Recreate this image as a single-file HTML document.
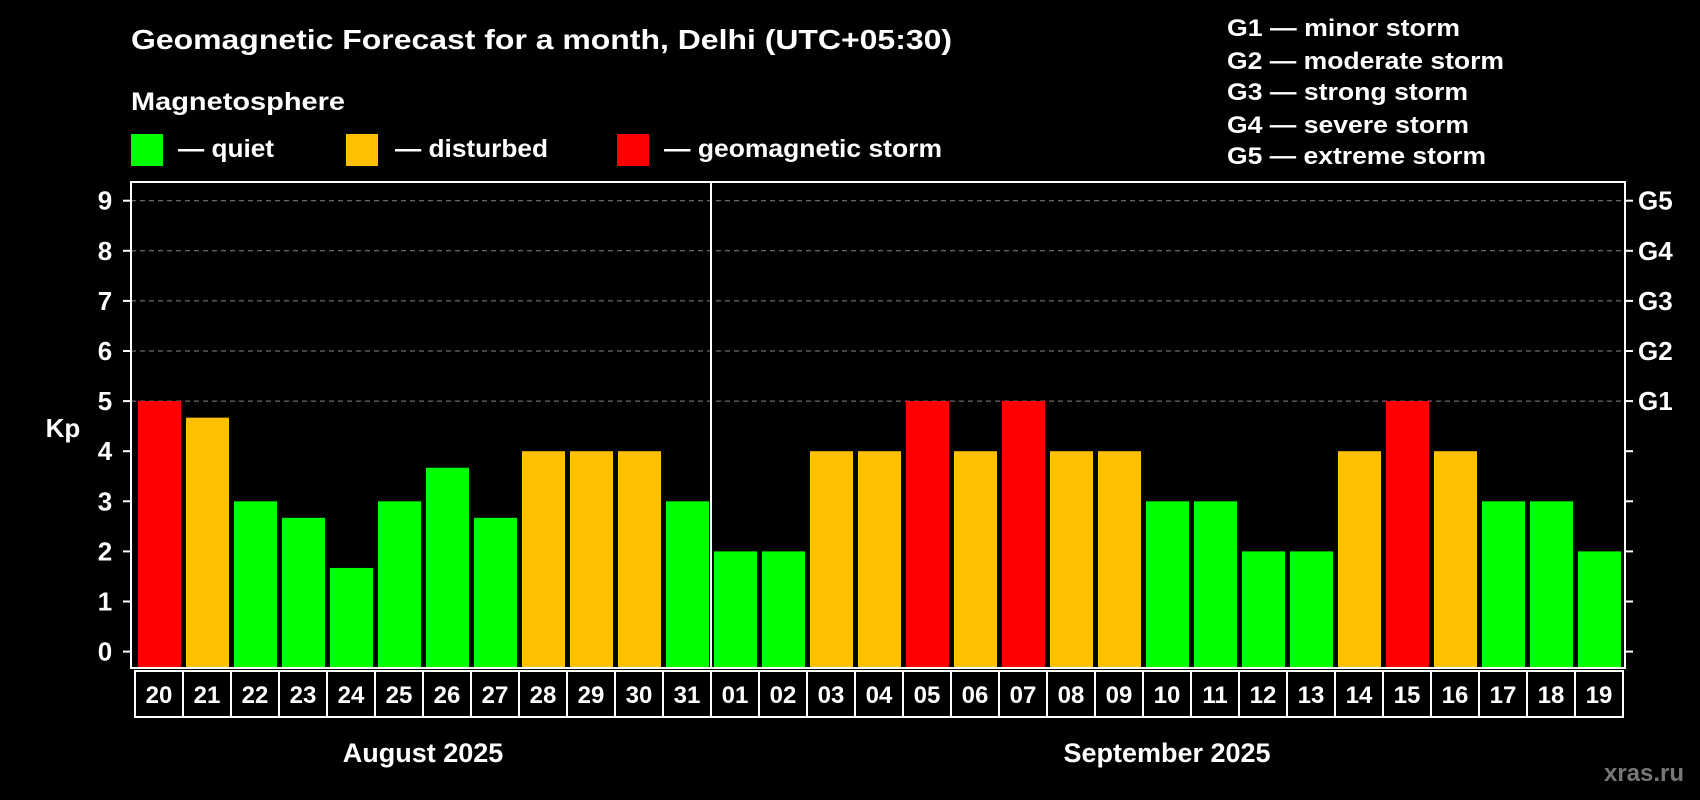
<!DOCTYPE html>
<html><head><meta charset="utf-8"><style>
html,body{margin:0;padding:0;background:#000;width:1700px;height:800px;overflow:hidden}
svg{display:block;font-family:"Liberation Sans",Arial,sans-serif;font-weight:bold}
</style></head><body>
<svg id="chart" width="1700" height="800" viewBox="0 0 1700 800">
<rect width="1700" height="800" fill="#000"/>
<text x="131" y="49" font-size="28" fill="#fff" textLength="821" lengthAdjust="spacingAndGlyphs">Geomagnetic Forecast for a month, Delhi (UTC+05:30)</text>
<text x="131" y="110" font-size="25" fill="#fff" textLength="214" lengthAdjust="spacingAndGlyphs">Magnetosphere</text>
<g><rect x="131" y="134" width="32" height="32" fill="#00ff00"/><text x="178" y="157" font-size="25" fill="#fff" textLength="96" lengthAdjust="spacingAndGlyphs">— quiet</text></g>
<g><rect x="346" y="134" width="32" height="32" fill="#ffc000"/><text x="395" y="157" font-size="25" fill="#fff" textLength="153" lengthAdjust="spacingAndGlyphs">— disturbed</text></g>
<g><rect x="617" y="134" width="32" height="32" fill="#ff0000"/><text x="664" y="157" font-size="25" fill="#fff" textLength="278" lengthAdjust="spacingAndGlyphs">— geomagnetic storm</text></g>
<g font-size="24" fill="#fff">
<text x="1227" y="36" textLength="233" lengthAdjust="spacingAndGlyphs">G1 — minor storm</text>
<text x="1227" y="69" textLength="277" lengthAdjust="spacingAndGlyphs">G2 — moderate storm</text>
<text x="1227" y="100" textLength="241" lengthAdjust="spacingAndGlyphs">G3 — strong storm</text>
<text x="1227" y="133" textLength="242" lengthAdjust="spacingAndGlyphs">G4 — severe storm</text>
<text x="1227" y="164" textLength="259" lengthAdjust="spacingAndGlyphs">G5 — extreme storm</text>
</g>
<text x="63" y="437" font-size="26" fill="#fff" text-anchor="middle">Kp</text>
<text x="1644" y="781" font-size="24" fill="#777" text-anchor="middle">xras.ru</text>
<g id="plot"></g>
</svg>
<script>
const dates = ["20","21","22","23","24","25","26","27","28","29","30","31","01","02","03","04","05","06","07","08","09","10","11","12","13","14","15","16","17","18","19"];
const kpValues = [5,4.67,3,2.67,1.67,3,3.67,2.67,4,4,4,3,2,2,4,4,5,4,5,4,4,3,3,2,2,4,5,4,3,3,2];
const yTicks = [0,1,2,3,4,5,6,7,8,9];
const gLabels = ["G1","G2","G3","G4","G5"];
const months = ["August 2025","September 2025"];
const monthStartIdx = [0,12];

const NS="http://www.w3.org/2000/svg";
const plot=document.getElementById('plot');
const L=131,R=1625,T=182,B=668,y0=651.6,unit=50.1,step=48,x0=134,barW=43;
const y=v=>y0-v*unit;
const xs=i=>x0+i*step;
function mk(tag,attrs,parent){const e=document.createElementNS(NS,tag);for(const k in attrs)e.setAttribute(k,attrs[k]);(parent||plot).appendChild(e);return e;}

// gridlines 5..9
yTicks.filter(t=>t>=5).forEach(t=>{
  const g=mk('line',{x1:L,x2:R,y1:y(t),y2:y(t),stroke:'#888','stroke-width':1,'stroke-dasharray':'5,4'});
  
  
});
// bars
kpValues.forEach((v,i)=>{
  const c=v>=5?'#ff0000':(v>=4?'#ffc000':'#00ff00');
  const b=mk('rect',{x:xs(i)+4,y:y(v),width:barW,height:B-y(v),fill:c});
  
  
});
// frame
const f=mk('rect',{x:L,y:T,width:R-L,height:B-T,fill:'none',stroke:'#fff','stroke-width':2});


// month separator
const sepX=xs(monthStartIdx[1])+1;
const sep=mk('line',{x1:sepX,x2:sepX,y1:T,y2:B,stroke:'#fff','stroke-width':2});


// y ticks & labels
yTicks.forEach(t=>{
  mk('line',{x1:L-8,x2:L,y1:y(t),y2:y(t),stroke:'#fff','stroke-width':2});
  mk('line',{x1:R,x2:R+8,y1:y(t),y2:y(t),stroke:'#fff','stroke-width':2});
  const tx=mk('text',{x:105,y:y(t)+9,'font-size':26,fill:'#fff','text-anchor':'middle'});
  tx.textContent=t;
  
  
});
gLabels.forEach((g,i)=>{
  const tx=mk('text',{x:1638,y:y(5+i)+9,'font-size':26,fill:'#fff'});
  tx.textContent=g;
  
  
});
// date boxes
const dbT=671,dbB=717;
dates.forEach((d,i)=>{
  const cx=xs(i)+1;
  const r=mk('rect',{x:cx,y:dbT,width:step,height:dbB-dbT,fill:'none',stroke:'#fff','stroke-width':2});
  
  
  const tx=mk('text',{x:cx+step/2,y:703,'font-size':24,fill:'#fff','text-anchor':'middle'});
  tx.textContent=d;
  
  
});
// month labels
months.forEach((m,i)=>{
  const s=monthStartIdx[i],e=i+1<monthStartIdx.length?monthStartIdx[i+1]:dates.length;
  const cx=(xs(s)+xs(e))/2+1;
  const tx=mk('text',{x:cx,y:762,'font-size':27,fill:'#fff','text-anchor':'middle'});
  tx.textContent=m;
  
  
});
</script>
</body></html>
